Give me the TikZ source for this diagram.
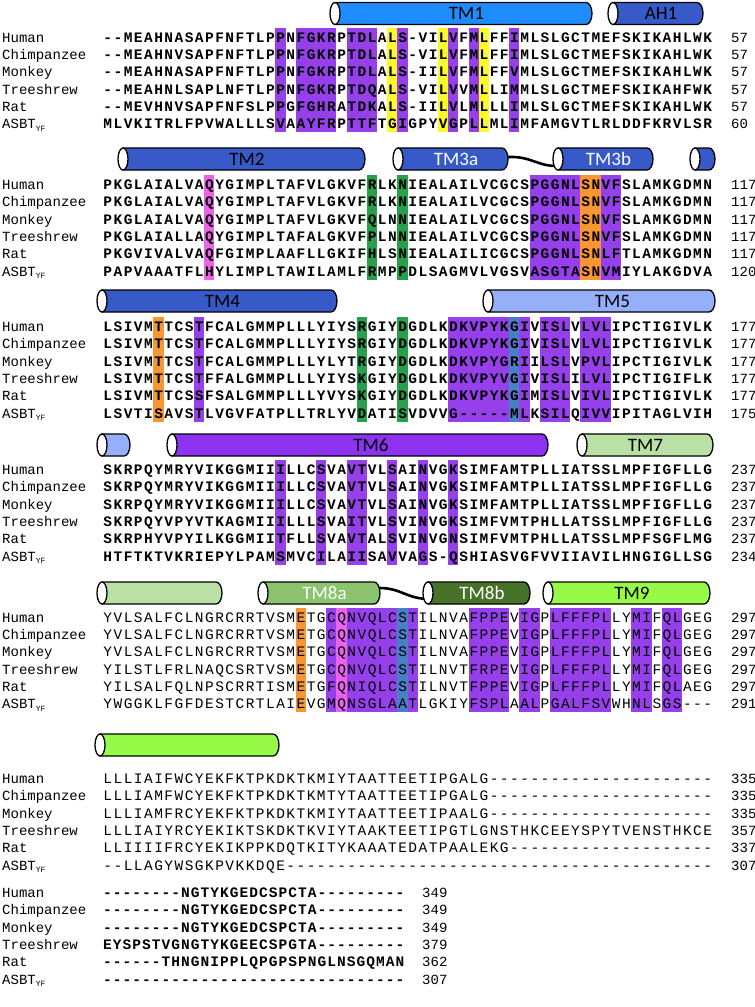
\documentclass[tikz,border=0pt]{standalone}
\usepackage{fontspec}
\setmainfont{Liberation Mono}
\newfontfamily\tmfont{Carlito}
\definecolor{hpur}{RGB}{150,64,236}
\definecolor{hyel}{RGB}{250,250,40}
\definecolor{hpink}{RGB}{232,100,232}
\definecolor{hgrn}{RGB}{40,160,75}
\definecolor{horg}{RGB}{247,150,50}
\definecolor{hblu}{RGB}{70,130,195}
\definecolor{tmone}{RGB}{30,140,255}
\definecolor{tmblue}{RGB}{55,90,200}
\definecolor{tmlight}{RGB}{150,175,250}
\definecolor{tmpur}{RGB}{140,50,240}
\definecolor{tmlgreen}{RGB}{185,225,165}
\definecolor{tmmgreen}{RGB}{140,195,110}
\definecolor{tmdgreen}{RGB}{70,115,40}
\definecolor{tmbgreen}{RGB}{150,250,70}
\makeatletter
\newcommand\seqtxt[1]{\seq@loop#1\@nil}
\def\seq@loop#1{\ifx#1\@nil\else\makebox[\seqcw][c]{#1}\expandafter\seq@loop\fi}
\makeatother
\newcommand\seqcw{10.17pt}
\newcommand\asbt{ASBT\raisebox{-2.5pt}{\fontsize{8}{8}\selectfont YF}}
\begin{document}
\begin{tikzpicture}[x=1pt,y=-1pt,
 lab/.style={anchor=west, inner sep=0pt, font=\fontsize{14}{14}\selectfont, text height=9pt, text depth=0pt},
 seqb/.style={anchor=west, inner sep=0pt, font=\fontsize{14.5}{14.5}\selectfont\bfseries, text height=9pt, text depth=0pt},
 seql/.style={anchor=west, inner sep=0pt, font=\fontsize{14.5}{14.5}\selectfont, text height=9pt, text depth=0pt},
 cylline/.style={draw=black, line width=1.3pt},
 tmlab/.style={inner sep=0pt, font=\tmfont\fontsize{19}{19}\selectfont},
 link/.style={draw=black, line width=2.6pt}
]
\useasboundingbox (0,0) rectangle (755,1007);
\newcommand\hl[4]{\fill[#4] ({102.5+#2*10.17},#1) rectangle ({102.5+(#3+1)*10.17},#1+104.75);}
\newcommand\row[7]{%
 \node[lab] (#1l) at (2,#2) {#3};
 \node[#7] (#1s) at (102.5,#2) {\seqtxt{#4}};
 \node[lab] (#1n) at (#6,#2) {#5};}
\newcommand\cyl[5]{%
 \draw[cylline, fill=#4] (#1,#3-11) -- (#2-6,#3-11) arc[start angle=-90,end angle=90,x radius=6,y radius=11] -- (#1,#3+11) -- cycle;
 \draw[cylline, fill=white] (#1,#3) ellipse[x radius=5,y radius=11];
 \coordinate (#5) at ({(#1+#2)/2+3},#3);}

% ---------- block 1 ----------
\hl{27.5}{17}{17}{hpur}\hl{27.5}{19}{22}{hpur}\hl{27.5}{24}{26}{hpur}\hl{27.5}{29}{29}{hpur}
\hl{27.5}{34}{34}{hpur}\hl{27.5}{36}{36}{hpur}\hl{27.5}{40}{40}{hpur}
\hl{27.5}{28}{28}{hyel}\hl{27.5}{33}{33}{hyel}\hl{27.5}{37}{37}{hyel}
\cyl{335}{592}{13.5}{tmone}{c1}\node[tmlab] (t1) at (c1) {TM1};
\cyl{613}{703}{13.5}{tmblue}{c2}\node[tmlab] (t2) at (c2) {AH1};
\row{a1}{37.5}{Human}{--MEAHNASAPFNFTLPPNFGKRPTDLALS-VILVFMLFFIMLSLGCTMEFSKIKAHLWK}{57}{731}{seqb}
\row{a2}{54.85}{Chimpanzee}{--MEAHNVSAPFNFTLPPNFGKRPTDLALS-VILVFMLFFIMLSLGCTMEFSKIKAHLWK}{57}{731}{seqb}
\row{a3}{72.2}{Monkey}{--MEAHNASAPFNFTLPPNFGKRPTDLALS-IILVFMLFFVMLSLGCTMEFSKIKAHLWK}{57}{731}{seqb}
\row{a4}{89.55}{Treeshrew}{--MEAHNLSAPLNFTLPPNFGKRPTDQALS-VILVVMLLIMMLSLGCTMEFSKIKAHFWK}{57}{731}{seqb}
\row{a5}{106.9}{Rat}{--MEVHNVSAPFNFSLPPGFGHRATDKALS-IILVLMLLLIMLSLGCTMEFSKIKAHLWK}{57}{731}{seqb}
\row{a6}{124.25}{\asbt}{MLVKITRLFPVWALLLSVAAYFRPTTFTGIGPYVGPLLMLIMFAMGVTLRLDDFKRVLSR}{60}{731}{seqb}

% ---------- block 2 ----------
\hl{175}{10}{10}{hpink}\hl{175}{26}{26}{hgrn}\hl{175}{29}{29}{hgrn}
\hl{175}{42}{46}{hpur}\hl{175}{47}{48}{horg}\hl{175}{49}{50}{hpur}
\cyl{123}{365}{159}{tmblue}{c3}\node[tmlab] (t3) at (c3) {TM2};
\draw[link] (507,157) .. controls (532,156) and (536,166) .. (557,166);
\cyl{398}{508}{159}{tmblue}{c4}\node[tmlab,white] (t4) at (c4) {TM3a};
\cyl{558}{653}{159}{tmblue}{c5}\node[tmlab,white] (t5) at (c5) {TM3b};
\cyl{695}{715}{159}{tmblue}{c6}
\row{b1}{185}{Human}{PKGLAIALVAQYGIMPLTAFVLGKVFRLKNIEALAILVCGCSPGGNLSNVFSLAMKGDMN}{117}{731}{seqb}
\row{b2}{202.35}{Chimpanzee}{PKGLAIALVAQYGIMPLTAFVLGKVFRLKNIEALAILVCGCSPGGNLSNVFSLAMKGDMN}{117}{731}{seqb}
\row{b3}{219.7}{Monkey}{PKGLAIALVAQYGIMPLTAFVLGKVFQLNNIEALAILVCGCSPGGNLSNVFSLAMKGDMN}{117}{731}{seqb}
\row{b4}{237.05}{Treeshrew}{PKGLAIALLAQYGIMPLTAFALGKVFPLNNIEALAILVCGCSPGGNLSNVFSLAMKGDMN}{117}{731}{seqb}
\row{b5}{254.4}{Rat}{PKGVIVALVAQFGIMPLAAFLLGKIFHLSNIEALAILICGCSPGGNLSNLFTLAMKGDMN}{117}{731}{seqb}
\row{b6}{271.75}{\asbt}{PAPVAAATFLHYLIMPLTAWILAMLFRMPPDLSAGMVLVGSVASGTASNVMIYLAKGDVA}{120}{731}{seqb}

% ---------- block 3 ----------
\hl{317}{5}{5}{horg}\hl{317}{9}{9}{hpur}\hl{317}{25}{25}{hgrn}\hl{317}{29}{29}{hgrn}
\hl{317}{34}{39}{hpur}\hl{317}{40}{40}{hblu}\hl{317}{41}{41}{hpur}\hl{317}{43}{45}{hpur}\hl{317}{47}{49}{hpur}
\cyl{102}{337}{301}{tmblue}{c7}\node[tmlab] (t7) at (c7) {TM4};
\cyl{488}{715}{301}{tmlight}{c8}\node[tmlab] (t8) at ([xshift=8pt]c8) {TM5};
\row{c1}{327}{Human}{LSIVMTTCSTFCALGMMPLLLYIYSRGIYDGDLKDKVPYKGIVISLVLVLIPCTIGIVLK}{177}{731}{seqb}
\row{c2}{344.35}{Chimpanzee}{LSIVMTTCSTFCALGMMPLLLYIYSRGIYDGDLKDKVPYKGIVISLVLVLIPCTIGIVLK}{177}{731}{seqb}
\row{c3}{361.7}{Monkey}{LSIVMTTCSTFCALGMMPLLLYLYTRGIYDGDLKDKVPYGRIILSLVPVLIPCTIGIVLK}{177}{731}{seqb}
\row{c4}{379.05}{Treeshrew}{LSIVMTTCSTFFALGMMPLLLYIYSKGIYDGDLKDKVPYVGIVISLILVLIPCTIGIFLK}{177}{731}{seqb}
\row{c5}{396.4}{Rat}{LSIVMTTCSSFSALGMMPLLLYVYSKGIYDGDLKDKVPYKGIMISLVIVLIPCTIGIVLK}{177}{731}{seqb}
\row{c6}{413.75}{\asbt}{LSVTISAVSTLVGVFATPLLTRLYVDATISVDVVG-----MLKSILQIVVIPITAGLVIH}{175}{731}{seqb}

% ---------- block 4 ----------
\hl{460}{17}{17}{hpur}\hl{460}{21}{21}{hpur}\hl{460}{24}{25}{hpur}\hl{460}{28}{28}{hpur}
\hl{460}{31}{31}{hpur}\hl{460}{34}{34}{hpur}
\cyl{102}{130}{445}{tmlight}{c9}
\cyl{172}{548}{445}{tmpur}{c10}\node[tmlab] (t10) at ([xshift=8pt]c10) {TM6};
\cyl{582}{713}{445}{tmlgreen}{c11}\node[tmlab] (t11) at ([xshift=-5pt]c11) {TM7};
\row{d1}{470}{Human}{SKRPQYMRYVIKGGMIIILLCSVAVTVLSAINVGKSIMFAMTPLLIATSSLMPFIGFLLG}{237}{731}{seqb}
\row{d2}{487.35}{Chimpanzee}{SKRPQYMRYVIKGGMIIILLCSVAVTVLSAINVGKSIMFAMTPLLIATSSLMPFIGFLLG}{237}{731}{seqb}
\row{d3}{504.7}{Monkey}{SKRPQYMRYVIKGGMIIILLCSVAVTVLSAINVGKSIMFAMTPLLIATSSLMPFIGFLLG}{237}{731}{seqb}
\row{d4}{522.05}{Treeshrew}{SKRPQYVPYVTKAGMIIILLLSVAITVLSVINVGKSIMFVMTPHLLATSSLMPFIGFLLG}{237}{731}{seqb}
\row{d5}{539.4}{Rat}{SKRPHYVPYILKGGMIITFLLSVAVTALSVINVGNSIMFVMTPHLLATSSLMPFSGFLMG}{237}{731}{seqb}
\row{d6}{556.75}{\asbt}{HTFTKTVKRIEPYLPAMSMVCILAIISAVVAGS-QSHIASVGFVVIIAVILHNGIGLLSG}{234}{731}{seqb}

% ---------- block 5 ----------
\hl{607.5}{19}{19}{horg}\hl{607.5}{22}{22}{hpur}\hl{607.5}{23}{23}{hpink}\hl{607.5}{24}{28}{hpur}
\hl{607.5}{29}{29}{hblu}\hl{607.5}{30}{30}{hpur}\hl{607.5}{36}{39}{hpur}\hl{607.5}{41}{42}{hpur}
\hl{607.5}{44}{49}{hpur}\hl{607.5}{52}{53}{hpur}\hl{607.5}{55}{56}{hpur}
\cyl{102}{222}{593}{tmlgreen}{c12}
\draw[link] (379,588) .. controls (402,588) and (406,599) .. (430,599);
\cyl{263}{380}{593}{tmmgreen}{c13}\node[tmlab,white] (t13) at (c13) {TM8a};
\cyl{428}{530}{593}{tmdgreen}{c14}\node[tmlab,white] (t14) at (c14) {TM8b};
\cyl{548}{710}{593}{tmbgreen}{c15}\node[tmlab] (t15) at (c15) {TM9};
\row{e1}{617.5}{Human}{YVLSALFCLNGRCRRTVSMETGCQNVQLCSTILNVAFPPEVIGPLFFFPLLYMIFQLGEG}{297}{731}{seql}
\row{e2}{634.85}{Chimpanzee}{YVLSALFCLNGRCRRTVSMETGCQNVQLCSTILNVAFPPEVIGPLFFFPLLYMIFQLGEG}{297}{731}{seql}
\row{e3}{652.2}{Monkey}{YVLSALFCLNGRCRRTVSMETGCQNVQLCSTILNVAFPPEVIGPLFFFPLLYMIFQLGEG}{297}{731}{seql}
\row{e4}{669.55}{Treeshrew}{YILSTLFRLNAQCSRTVSMETGCQNVQLCSTILNVTFRPEVIGPLFFFPLLYMIFQLGEG}{297}{731}{seql}
\row{e5}{686.9}{Rat}{YILSALFQLNPSCRRTISMETGFQNIQLCSTILNVTFPPEVIGPLFFFPLLYMIFQLAEG}{297}{731}{seql}
\row{e6}{704.25}{\asbt}{YWGGKLFGFDESTCRTLAIEVGMQNSGLAATLGKIYFSPLAALPGALFSVWHNLSGS---}{291}{731}{seql}

% ---------- block 6 ----------
\cyl{100}{279}{745}{tmbgreen}{c16}
\row{f1}{779}{Human}{LLLIAIFWCYEKFKTPKDKTKMIYTAATTEETIPGALG----------------------}{335}{731}{seql}
\row{f2}{796.35}{Chimpanzee}{LLLIAMFWCYEKFKTPKDKTKMTYTAATTEETIPGALG----------------------}{335}{731}{seql}
\row{f3}{813.7}{Monkey}{LLLIAMFRCYEKFKTPKDKTKMIYTAATTEETIPAALG----------------------}{335}{731}{seql}
\row{f4}{831.05}{Treeshrew}{LLLIAIYRCYEKIKTSKDKTKVIYTAAKTEETIPGTLGNSTHKCEEYSPYTVENSTHKCE}{357}{731}{seql}
\row{f5}{848.4}{Rat}{LLIIIIFRCYEKIKPPKDQTKITYKAAATEDATPAALEKG--------------------}{337}{731}{seql}
\row{f6}{865.75}{\asbt}{--LLAGYWSGKPVKKDQE------------------------------------------}{307}{731}{seql}

% ---------- block 7 ----------
\renewcommand\seqcw{9.75pt}
\row{g1}{893}{Human}{--------NGTYKGEDCSPCTA---------}{349}{422}{seqb}
\row{g2}{910.35}{Chimpanzee}{--------NGTYKGEDCSPCTA---------}{349}{422}{seqb}
\row{g3}{927.7}{Monkey}{--------NGTYKGEDCSPCTA---------}{349}{422}{seqb}
\row{g4}{945.05}{Treeshrew}{EYSPSTVGNGTYKGEECSPGTA---------}{379}{422}{seqb}
\row{g5}{962.4}{Rat}{------THNGNIPPLQPGPSPNGLNSGQMAN}{362}{422}{seqb}
\row{g6}{979.75}{\asbt}{-------------------------------}{307}{422}{seqb}
\end{tikzpicture}
\end{document}
